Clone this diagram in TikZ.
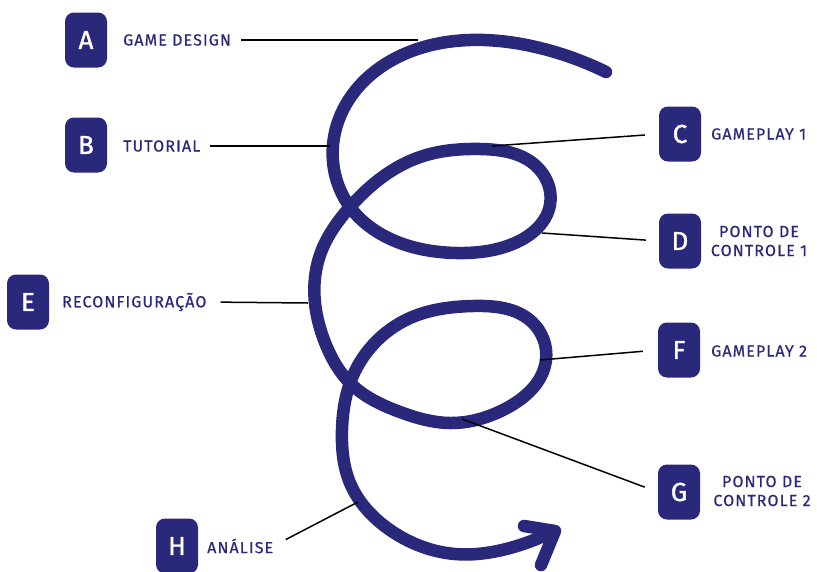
\documentclass[tikz,border=0pt]{standalone}
\usepackage{fontspec}
\setmainfont{Fira Sans}
\newfontfamily\lblfont[LetterSpace=7,FakeBold=0.6]{Fira Sans}
\newfontfamily\boxfont[FakeBold=1.3]{Fira Sans}
\usetikzlibrary{hobby}
\definecolor{navy}{RGB}{42,40,122}
\begin{document}
\begin{tikzpicture}[x=1pt,y=-1pt,
 box/.style={fill=navy, rounded corners=9pt, minimum width=42pt, minimum height=55pt, inner sep=0pt, text=white, font=\boxfont\fontsize{26}{26}\selectfont},
 lbl/.style={text=navy, font=\lblfont\fontsize{16}{19}\selectfont, inner sep=0pt},
 lead/.style={draw=black, line width=1.5pt},
 spiral/.style={draw=navy, line width=12.5pt, line cap=round, line join=round}]
\useasboundingbox (0,0) rectangle (817,571);
% spiral
\draw[spiral] (606,72) to[curve through={(540,48) (470,40) (400,56) (352,95) (333,145) (350,207)
 (400,243) (457,253) (515,243) (550,205) (535,165) (480,149) (420,157) (350,207)
 (320,255) (315,303) (326,345) (350,383)
 (400,412) (450,423) (505,409) (546,360) (532,322) (473,306) (410,318) (350,383)
 (342,430) (350,483) (390,530) (455,554) (510,548)}] (552,532);
\draw[spiral] (524,526) -- (555,531) -- (541,565);
% boxes
\node[box] (bA) at (86,40) {A};
\node[box] (bB) at (86,145) {B};
\node[box] (bC) at (680,134) {C};
\node[box] (bD) at (680,241) {D};
\node[box] (bE) at (28,302) {E};
\node[box] (bF) at (679,350) {F};
\node[box] (bG) at (679,492) {G};
\node[box] (bH) at (177,546) {H};
% labels
\node[lbl, anchor=west] (tA) at (123,40) {GAME DESIGN};
\node[lbl, anchor=west] (tB) at (123,146) {TUTORIAL};
\node[lbl, anchor=west] (tC) at (711,134) {GAMEPLAY 1};
\node[lbl, align=center] (tD) at (759,241) {PONTO DE\\CONTROLE 1};
\node[lbl, anchor=west] (tE) at (62,302) {RECONFIGURAÇÃO};
\node[lbl, anchor=west] (tF) at (711,351) {GAMEPLAY 2};
\node[lbl, align=center] (tG) at (762,491) {PONTO DE\\CONTROLE 2};
\node[lbl, anchor=west] (tH) at (207,546) {ANÁLISE};
% points on spiral
\coordinate (pA) at (418,40);
\coordinate (pB) at (330,146);
\coordinate (pC) at (492,146);
\coordinate (pD) at (542,233);
\coordinate (pE) at (308,303);
\coordinate (pF) at (540,360);
\coordinate (pG) at (462,419);
\coordinate (pH) at (358,502);
% leaders
\draw[lead, shorten <=10pt] (tA.east) -- (pA);
\draw[lead, shorten <=10pt] (tB.east) -- (pB);
\draw[lead, shorten >=14pt] (pC) -- (bC.west);
\draw[lead, shorten >=13pt] (pD) -- (bD.west);
\draw[lead, shorten <=14pt] (tE.east) -- (pE);
\draw[lead, shorten >=15pt] (pF) -- (bF.west);
\draw[lead, shorten >=14pt] (pG) -- (bG.west);
\draw[lead, shorten <=14pt] (tH.east) -- (pH);
\end{tikzpicture}
\end{document}
